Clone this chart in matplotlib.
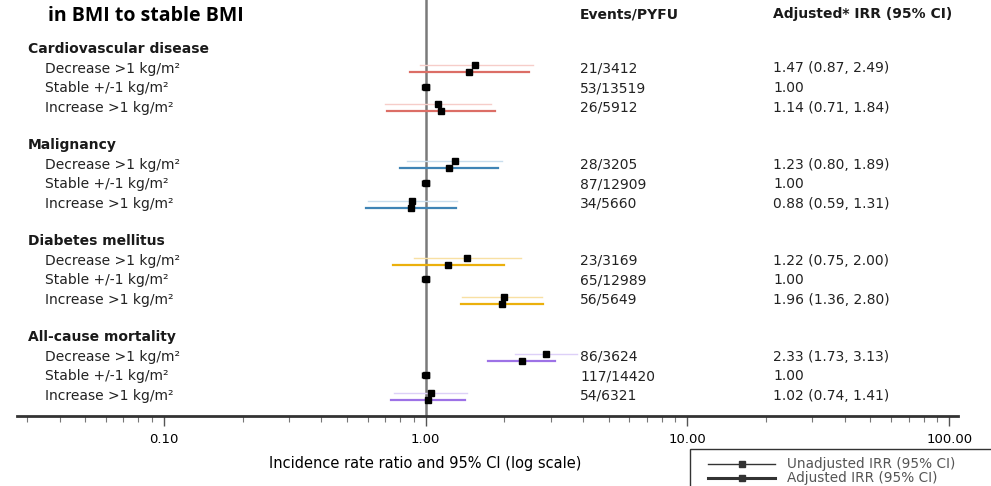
import numpy as np
import matplotlib.pyplot as plt
from matplotlib.lines import Line2D
from matplotlib.patches import Rectangle

# data
groups = ["Cardiovascular disease", "Malignancy", "Diabetes mellitus", "All-cause mortality"]
rows = ["Decrease >1 kg/m\u00b2", "Stable +/-1 kg/m\u00b2", "Increase >1 kg/m\u00b2"]

events = [["21/3412", "53/13519", "26/5912"],
          ["28/3205", "87/12909", "34/5660"],
          ["23/3169", "65/12989", "56/5649"],
          ["86/3624", "117/14420", "54/6321"]]

# adjusted IRR (from table)
adj_est = [[1.47, 1.00, 1.14], [1.23, 1.00, 0.88], [1.22, 1.00, 1.96], [2.33, 1.00, 1.02]]
adj_lo = [[0.87, 1.00, 0.71], [0.80, 1.00, 0.59], [0.75, 1.00, 1.36], [1.73, 1.00, 0.74]]
adj_hi = [[2.49, 1.00, 1.84], [1.89, 1.00, 1.31], [2.00, 1.00, 2.80], [3.13, 1.00, 1.41]]

# unadjusted IRR
unadj_est = [[1.55, 1.00, 1.12], [1.29, 1.00, 0.89], [1.44, 1.00, 2.00], [2.89, 1.00, 1.05]]
unadj_lo = [[0.95, 1.00, 0.70], [0.85, 1.00, 0.60], [0.90, 1.00, 1.38], [2.19, 1.00, 0.76]]
unadj_hi = [[2.57, 1.00, 1.78], [1.96, 1.00, 1.32], [2.32, 1.00, 2.79], [3.80, 1.00, 1.44]]

adj_colors = ["#dc6e66", "#3f84b5", "#ebb00c", "#9d72e6"]
unadj_colors = ["#f6cdc9", "#c8dded", "#f8e0a3", "#ddd0f8"]

W, H = 991, 486
fig = plt.figure(figsize=(W / 100, H / 100), dpi=100)
ax_bottom = 416
x0, x1 = 17, 958
ax = fig.add_axes([x0 / W, 1 - ax_bottom / H, (x1 - x0) / W, ax_bottom / H])
ax.set_xscale("log")
ax.set_xlim(0.0275, 108)
ax.set_ylim(ax_bottom, 0)

sans = ["DejaVu Sans"]
title_font = ["Open Sans", "DejaVu Sans"]
fs = 10

def fx(px):
    return (px - x0) / (x1 - x0)

tr = ax.get_yaxis_transform()

for g, name in enumerate(groups):
    head_y = 49 + 96 * g
    ax.text(fx(28), head_y, name, transform=tr, fontsize=fs, fontweight="bold",
            family=sans, color="#1a1a1a", va="center")
    for r, lab in enumerate(rows):
        y = head_y + 19.5 * (r + 1)
        ax.text(fx(45), y, lab, transform=tr, fontsize=fs, family=sans, color="#222222", va="center")
        ax.text(fx(580), y, events[g][r], transform=tr, fontsize=fs, family=sans, color="#222222", va="center")
        if r == 1:
            ax.text(fx(773), y, "%.2f" % adj_est[g][r], transform=tr, fontsize=fs, family=sans,
                    color="#222222", va="center")
            ax.errorbar([1.0], [y - 1], xerr=[[0.03], [0.03]], fmt="s", color="black", ms=4,
                        elinewidth=1, capsize=2.5, zorder=5)
            continue
        ax.text(fx(773), y, "%.2f (%.2f, %.2f)" % (adj_est[g][r], adj_lo[g][r], adj_hi[g][r]),
                transform=tr, fontsize=fs, family=sans, color="#222222", va="center")
        yu, ya = y - 3, y + 4
        ax.plot([unadj_lo[g][r], unadj_hi[g][r]], [yu, yu], color=unadj_colors[g], lw=1.0, zorder=3)
        ax.plot([adj_lo[g][r], adj_hi[g][r]], [ya, ya], color=adj_colors[g], lw=1.6, zorder=3)
        ax.plot([unadj_est[g][r]], [yu], marker="s", color="black", ms=5, zorder=5, ls="none")
        ax.plot([adj_est[g][r]], [ya], marker="s", color="black", ms=5, zorder=5, ls="none")

ax.axvline(1.0, color="#7a7a7a", lw=1.8, zorder=2)

for s in ["top", "left", "right"]:
    ax.spines[s].set_visible(False)
ax.spines["bottom"].set_linewidth(2)
ax.spines["bottom"].set_color("#333333")
ax.set_yticks([])
ax.set_xticks([0.1, 1, 10, 100])
ax.set_xticklabels(["0.10", "1.00", "10.00", "100.00"], family=sans, fontsize=9.5)
ax.tick_params(axis="x", which="major", length=7, width=1, color="#555555", pad=5)
ax.tick_params(axis="x", which="minor", length=4, width=0.8, color="#777777")
ax.set_xlabel("Incidence rate ratio and 95% CI (log scale)", family=sans, fontsize=10.5)
ax.xaxis.set_label_coords(fx(425), -(463 - ax_bottom) / ax_bottom)
ax.xaxis.label.set_va("center")

# column headers and title
fig.text(580 / W, 1 - 14 / H, "Events/PYFU", fontsize=fs, fontweight="bold", family=sans,
         color="#1a1a1a", va="center")
fig.text(773 / W, 1 - 14 / H, "Adjusted* IRR (95% CI)", fontsize=fs, fontweight="bold",
         family=sans, color="#1a1a1a", va="center")
fig.text(48 / W, 1 - 16 / H, "in BMI to stable BMI", fontsize=14, fontweight="bold", family=title_font,
         color="black", va="center")

# legend box
fig.add_artist(Rectangle((690 / W, -0.01), 320 / W, 1 - 449 / H + 0.01, transform=fig.transFigure,
                         facecolor="white", edgecolor="#333333", lw=1))
for yy, lw, lab in [(464, 1.0, "Unadjusted IRR (95% CI)"), (478, 2.2, "Adjusted IRR (95% CI)")]:
    fig.add_artist(Line2D([708 / W, 775 / W], [1 - yy / H, 1 - yy / H], transform=fig.transFigure,
                          color="#333333", lw=lw))
    fig.add_artist(Line2D([742 / W], [1 - yy / H], transform=fig.transFigure, marker="s",
                          color="#333333", ms=5))
    fig.text(787 / W, 1 - yy / H, lab, family=sans, fontsize=9.8, color="#555555", va="center")

fig.savefig("out.png", dpi=100)
